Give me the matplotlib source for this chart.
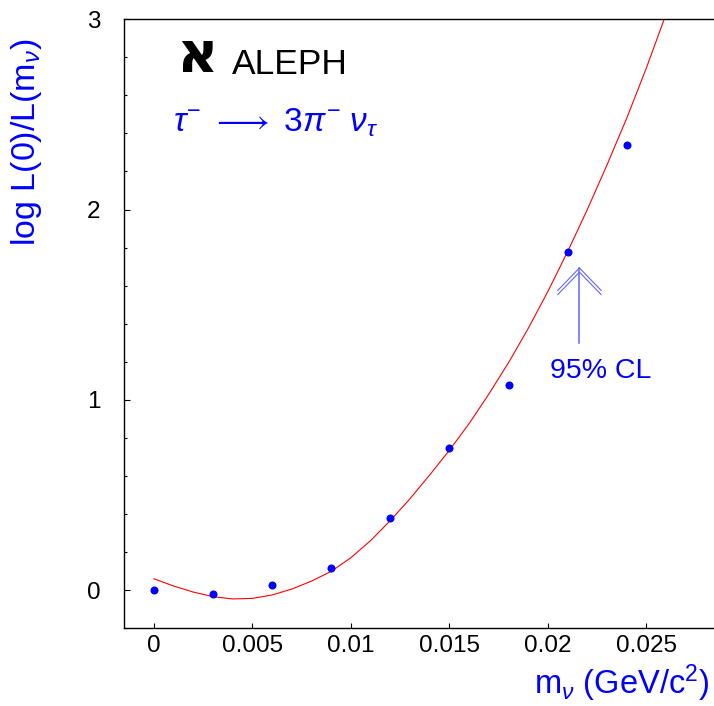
import matplotlib
matplotlib.use("Agg")
import matplotlib.pyplot as plt

plt.rcParams['font.family'] = ['Liberation Sans', 'DejaVu Sans']
plt.rcParams['mathtext.fontset'] = 'custom'
plt.rcParams['mathtext.rm'] = 'Liberation Sans'
plt.rcParams['mathtext.it'] = 'Liberation Sans:italic'
plt.rcParams['mathtext.bf'] = 'Liberation Sans:bold'

# Scanned neutrino mass points and log-likelihood ratio
mass = [0.0, 0.003, 0.006, 0.009, 0.012, 0.015, 0.018, 0.021, 0.024]
loglr = [0.0, -0.023, 0.028, 0.117, 0.379, 0.748, 1.079, 1.779, 2.341]

# Fitted likelihood curve
fit_mass = [0.000, 0.001, 0.002, 0.003, 0.004, 0.005, 0.006, 0.007, 0.008,
            0.009, 0.010, 0.011, 0.012, 0.013, 0.014, 0.015, 0.016, 0.017,
            0.018, 0.019, 0.020, 0.021, 0.022, 0.023, 0.024, 0.025, 0.0259]
fit_loglr = [0.059, 0.021, -0.011, -0.035, -0.047, -0.044, -0.026, 0.005, 0.047,
             0.098, 0.170, 0.260, 0.365, 0.480, 0.605, 0.735, 0.875, 1.030,
             1.195, 1.375, 1.570, 1.779, 2.000, 2.235, 2.480, 2.745, 3.000]

# 95% confidence level limit marker
cl_mass = 0.0216
cl_tip = 1.693
cl_tail = 1.30

x_ticks = [0, 0.005, 0.01, 0.015, 0.02, 0.025]
x_ticklabels = ['0', '0.005', '0.01', '0.015', '0.02', '0.025']
y_ticks = [0, 1, 2, 3]

W, H = 714, 706
fig = plt.figure(figsize=(W / 100, H / 100), dpi=100)
ax = fig.add_axes([124 / W, (H - 628.3) / H, 1 - 124 / W, (628.3 - 19.3) / H])

ax.plot(fit_mass, fit_loglr, color='#ff0000', lw=0.8, zorder=2)
ax.plot(mass, loglr, 'o', color='#0000ff', ms=5.8, mec='none', zorder=3)

# CL arrow: shaft plus open double chevron head
arrow_col = '#6464ff'
ax.plot([cl_mass, cl_mass], [cl_tail, cl_tip], color=arrow_col, lw=1.1)
for dy in (0.0, 0.022):
    ax.plot([cl_mass - 0.0011, cl_mass, cl_mass + 0.0011],
            [cl_tip - 0.118 - dy, cl_tip - dy, cl_tip - 0.118 - dy],
            color=arrow_col, lw=0.8)
ax.text(0.02269, 1.151, '95% CL', color='#0000ff', fontsize=20.5,
        ha='center', va='center')

ax.set_xlim(-0.00152, 0.02843)
ax.set_ylim(-0.2013, 3.0)
ax.set_xticks(x_ticks)
ax.set_xticklabels(x_ticklabels)
ax.set_yticks(y_ticks)
ax.set_yticks([v / 5 for v in range(-1, 15)], minor=True)
ax.tick_params(axis='both', which='both', direction='in', labelsize=17.5, colors='black')
ax.tick_params(axis='y', which='major', length=4.5, width=0.8, pad=17)
ax.tick_params(axis='y', which='minor', length=2.5, width=0.8)
ax.tick_params(axis='x', which='major', length=3.5, width=0.8, pad=5)
ax.tick_params(axis='x', which='minor', length=0)
ax.spines['right'].set_visible(False)
for s in ('left', 'bottom', 'top'):
    ax.spines[s].set_linewidth(1.0)

# Experiment logo and decay channel
fig.text(197 / W, 1 - 57 / H, '\u05d0', family=['DejaVu Sans'], fontweight='bold',
         fontsize=41, ha='center', va='center', color='black')
fig.text(232 / W, 1 - 64 / H, 'ALEPH', fontsize=25.5, ha='left', va='center', color='black')
fig.text(173 / W, 1 - 132 / H,
         r'$\tau^{-}\ \longrightarrow\ \mathit{3}\pi^{-}\ \nu_{\tau}$',
         fontsize=24, ha='left', va='baseline', color='#0000ff')

# Axis titles
fig.text(27 / W, 1 - 142 / H, r'log L(0)/L(m$_{\nu}$)', rotation=90, fontsize=24.5,
         ha='center', va='center', color='#0000ff')
fig.text(709 / W, 1 - 694 / H, r'm$_{\nu}$ (GeV/c$^{2}$)', fontsize=23.5,
         ha='right', va='baseline', color='#0000ff')

fig.savefig('out.png', dpi=100)
